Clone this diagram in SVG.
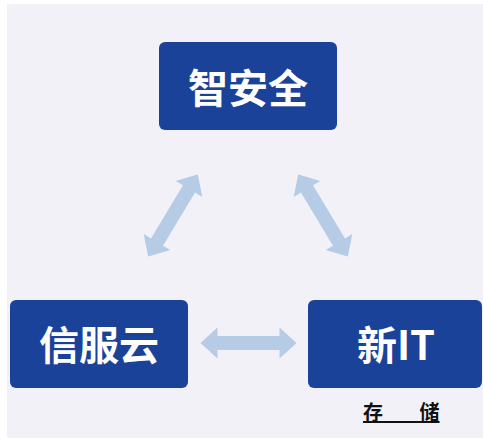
<svg xmlns="http://www.w3.org/2000/svg" width="483" height="441" viewBox="0 0 483 441">
<style>
.box{fill:#1b4299;}
.lbl{fill:#ffffff;font-family:"Noto Sans CJK SC","Liberation Sans",sans-serif;font-weight:bold;font-size:40px;text-anchor:middle;dominant-baseline:central;}
.arr{fill:#b5cbe6;}
.note{fill:#111111;font-family:"Noto Sans CJK SC",sans-serif;font-weight:bold;font-size:20px;text-decoration:underline;word-spacing:32px;}
</style>
<defs>
<polygon id="dbl" points="-48,0 -31,-15.5 -31,-7 31,-7 31,-15.5 48,0 31,15.5 31,7 -31,7 -31,15.5"/>
</defs>
<rect x="0" y="0" width="483" height="441" fill="#ffffff"/>
<rect x="7" y="4" width="476" height="434" fill="#f1f1f7"/>
<g id="connectors">
<use href="#dbl" class="arr" transform="translate(248.5,343)"/>
<use href="#dbl" class="arr" transform="translate(173,215.5) rotate(-58.9)"/>
<use href="#dbl" class="arr" transform="translate(323,215.5) rotate(58.9)"/>
</g>
<g id="node-security">
<rect class="box" x="159" y="42" width="178" height="88" rx="6"/>
<text class="lbl" x="248" y="86">智安全</text>
</g>
<g id="node-cloud">
<rect class="box" x="10" y="300" width="178" height="88" rx="6"/>
<text class="lbl" x="99" y="343">信服云</text>
</g>
<g id="node-newit">
<rect class="box" x="308" y="300" width="174" height="88" rx="6"/>
<text class="lbl" x="396" y="343">新IT</text>
<text class="note" x="363" y="420">存 储</text>
</g>
</svg>
